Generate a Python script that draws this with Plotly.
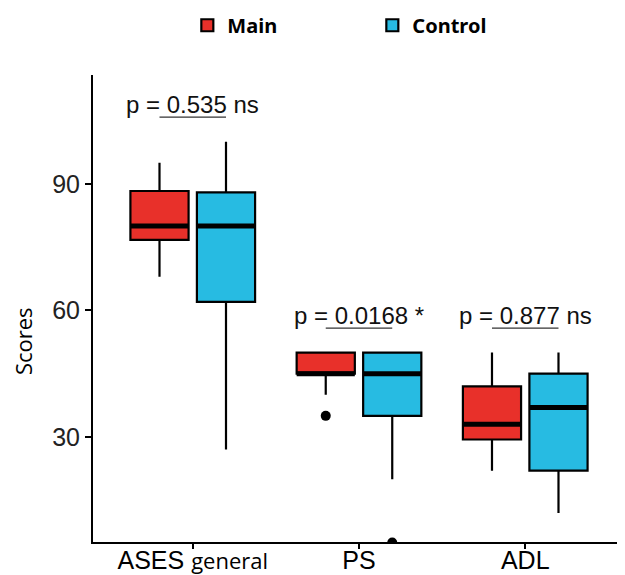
import plotly.graph_objects as go

categories = ["ASES general", "PS", "ADL"]
tick_labels = ["ASES <span style='font-family:Open Sans;font-size:22px'>general</span>", "PS", "ADL"]
groups = ["Main", "Control"]

main_lower = [68, 40, 22]
main_q1 = [76.7, 45, 29.4]
main_median = [80, 45, 33]
main_q3 = [88.3, 50, 42]
main_upper = [95, 50, 50]
main_outliers_cat = [2]
main_outliers_val = [35]

ctrl_lower = [27, 20, 12]
ctrl_q1 = [62, 35, 22]
ctrl_median = [80, 45, 37]
ctrl_q3 = [88, 50, 45]
ctrl_upper = [100, 50, 50]
ctrl_outliers_cat = [2]
ctrl_outliers_val = [5]

p_labels = ["p = 0.535 ns", "p = 0.0168 *", "p = 0.877 ns"]
y_title = "Scores"

colors = {"Main": "#E8302A", "Control": "#27BBE2"}
offset = 0.2
bw = 0.35

cat_pos = [1, 2, 3]
fig = go.Figure()

series = {
    "Main": (main_lower, main_q1, main_median, main_q3, main_upper, main_outliers_cat, main_outliers_val, -offset),
    "Control": (ctrl_lower, ctrl_q1, ctrl_median, ctrl_q3, ctrl_upper, ctrl_outliers_cat, ctrl_outliers_val, offset),
}

for name, (lo, q1, med, q3, up, ocat, oval, off) in series.items():
    xs = [p + off for p in cat_pos]
    fig.add_trace(go.Box(
        name=name, x=xs, q1=q1, median=med, q3=q3, lowerfence=lo, upperfence=up,
        width=bw, whiskerwidth=0, boxpoints=False,
        fillcolor=colors[name], line=dict(color="black", width=2.2),
        legendgroup=name, showlegend=True,
    ))
    for x, m in zip(xs, med):
        fig.add_trace(go.Scatter(
            x=[x - bw / 2, x + bw / 2], y=[m, m], mode="lines",
            line=dict(color="black", width=5), showlegend=False, hoverinfo="skip",
            legendgroup=name,
        ))
    fig.add_trace(go.Scatter(
        x=[c + off for c in ocat], y=oval, mode="markers",
        marker=dict(color="black", size=10), showlegend=False, cliponaxis=True,
        legendgroup=name,
    ))

# significance brackets
for i, c in enumerate(cat_pos):
    ymax = max(main_upper[i], ctrl_upper[i])
    yl = ymax + 5.8
    fig.add_trace(go.Scatter(
        x=[c - offset, c + offset], y=[yl, yl], mode="lines",
        line=dict(color="#333333", width=1.2), showlegend=False, hoverinfo="skip",
    ))
    fig.add_annotation(
        x=c, y=yl, text=p_labels[i], showarrow=False, yanchor="bottom", yshift=-3,
        font=dict(family="Liberation Sans", size=24, color="#111111"),
    )

fig.add_annotation(
    xref="paper", yref="paper", x=-0.133, y=0.43, text=y_title, textangle=-90,
    showarrow=False, xanchor="center", yanchor="middle", borderpad=0,
    font=dict(family="Open Sans", size=22, color="black"),
)

fig.update_layout(
    width=625, height=575,
    margin=dict(l=85, r=13, t=67, b=41),
    paper_bgcolor="white", plot_bgcolor="white",
    boxmode="overlay",
    legend=dict(
        orientation="h", x=0.179, xanchor="left", xref="paper",
        y=0.970, yanchor="middle", yref="container",
        font=dict(family="Noto Sans", size=20, color="black", weight="bold"),
        entrywidth=140, entrywidthmode="pixels", itemwidth=30,
    ),
    xaxis=dict(
        range=[0.4, 3.57], tickvals=cat_pos, ticktext=tick_labels,
        showline=True, linecolor="black", linewidth=2,
        ticks="outside", ticklen=5, tickwidth=2, tickcolor="black",
        showgrid=False, zeroline=False, automargin=False,
        ticklabelstandoff=-10,
        tickfont=dict(family="Liberation Sans", size=25, color="black"),
    ),
    yaxis=dict(
        range=[5.1, 115.8], tickvals=[30, 60, 90],
        showline=True, linecolor="black", linewidth=2,
        ticks="outside", ticklen=6, tickwidth=2, tickcolor="black",
        showgrid=False, zeroline=False, automargin=False,
        tickfont=dict(family="Liberation Sans", size=25, color="#222222"),
    ),
)

fig.write_html("out.html")
